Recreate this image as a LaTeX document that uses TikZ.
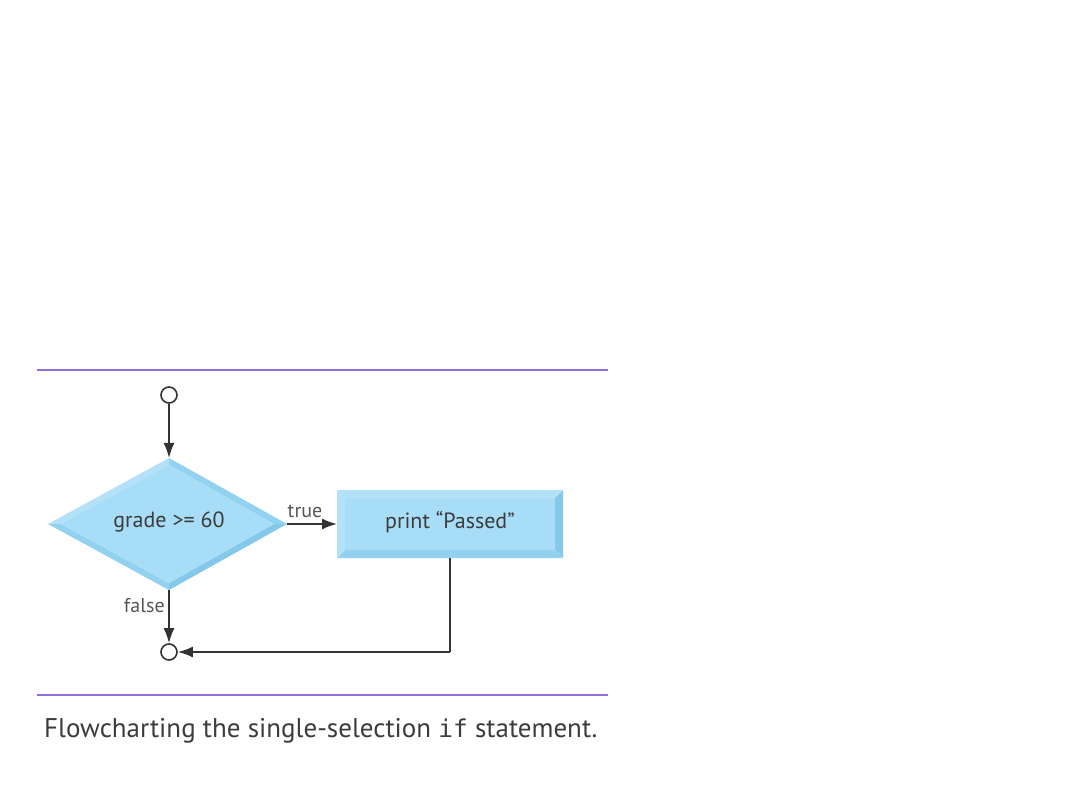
\documentclass[tikz,border=0pt]{standalone}
\usepackage{fontspec}
\setmainfont{PT Sans}
\newfontfamily\codefont{DejaVu Sans Mono}
\usetikzlibrary{arrows.meta}
\definecolor{purp}{HTML}{8E70DC}
\definecolor{face}{HTML}{A7DDF6}
\definecolor{lite}{HTML}{B3E2F8}
\definecolor{midb}{HTML}{92D1EF}
\definecolor{dark}{HTML}{84C9EA}
\definecolor{txt}{HTML}{3C3C3C}
\definecolor{lbl}{HTML}{555555}
\definecolor{ln}{HTML}{333333}
\tikzset{
  rule/.style={purp, line width=2pt},
  conn/.style={ln, line width=1.9pt, -{Latex[length=15pt,width=11pt]}},
  plain/.style={ln, line width=1.9pt},
  term/.style={circle, draw=ln, fill=white, line width=1.6pt, minimum size=16pt, inner sep=0pt},
  boxtext/.style={text=txt, font=\fontsize{22}{25}\selectfont},
  lbltext/.style={text=lbl, font=\fontsize{20}{23}\selectfont},
}
\begin{document}
\begin{tikzpicture}[x=1pt,y=-1pt]
\useasboundingbox (0,0) rectangle (1080,810);
\fill[white] (0,0) rectangle (1080,810);
% rules
\draw[rule] (37,370) -- (608,370);
\draw[rule] (37,695) -- (608,695);
% diamond bevel
\fill[lite] (48,524) -- (169,458) -- (169,465) -- (61,524) -- cycle;
\fill[midb] (169,458) -- (287,524) -- (274,524) -- (169,465) -- cycle;
\fill[dark] (287,524) -- (169,590) -- (169,583) -- (274,524) -- cycle;
\fill[midb] (169,590) -- (48,524) -- (61,524) -- (169,583) -- cycle;
\fill[face] (61,524) -- (169,465) -- (274,524) -- (169,583) -- cycle;
\coordinate (dT) at (169,458);
\coordinate (dR) at (287,524);
\coordinate (dB) at (169,590);
\node[boxtext] (dec) at (169,522) {grade >= 60};
% rectangle bevel
\fill[lite] (337,490) -- (563,490) -- (555,498) -- (345,498) -- cycle;
\fill[lite] (337,490) -- (345,498) -- (345,550) -- (337,558) -- cycle;
\fill[dark] (563,490) -- (563,558) -- (555,550) -- (555,498) -- cycle;
\fill[midb] (337,558) -- (563,558) -- (555,550) -- (345,550) -- cycle;
\fill[face] (345,498) rectangle (555,550);
\coordinate (rL) at (337,524);
\coordinate (rB) at (450,558);
\node[boxtext] (act) at (450,522) {print “Passed”};
% terminals
\node[term] (start) at (169,395) {};
\node[term] (stop) at (169,652) {};
\coordinate (corner) at (450,652);
% connectors
\draw[conn] (start) -- (dT);
\draw[conn] (dR) -- (rL) node[pos=0.36, above=2pt, lbltext] (tl) {true};
\draw[conn] (dB) -- (stop) node[pos=0.3, left=0pt, lbltext] (fl) {false};
\draw[plain] (rB) -- (corner);
\draw[conn] (corner) -- (stop);
% caption
\node[anchor=base west, text=txt, font=\fontsize{27}{31}\selectfont, inner sep=0pt] (cap) at (44,737) {Flowcharting the single-selection {\codefont\fontsize{24.5}{29}\selectfont if} statement.};
\end{tikzpicture}
\end{document}
